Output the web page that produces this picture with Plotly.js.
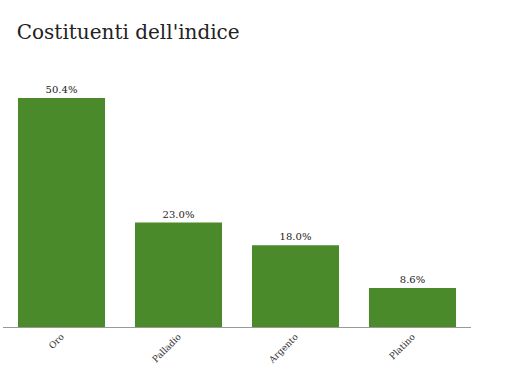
<!DOCTYPE html>
<html><head><meta charset="utf-8">
<script src="https://cdn.plot.ly/plotly-3.0.1.min.js"></script>
<style>html,body{margin:0;padding:0;background:#fff}#c{width:508px;height:387px}</style>
</head><body><div id="c"></div>
<script>
const categories = ["Oro", "Palladio", "Argento", "Platino"];
const weights = [50.4, 23.0, 18.0, 8.6];

const serif = "Georgia, 'DejaVu Serif', serif";
Plotly.newPlot('c', [{
  type: 'bar',
  x: categories,
  y: weights,
  marker: {color: '#4a8a2b'},
  texttemplate: '%{y:.1f}%',
  textposition: 'outside',
  cliponaxis: false,
  textfont: {family: serif, size: 10, color: '#222'},
  hoverinfo: 'none'
}], {
  width: 508, height: 387,
  margin: {l: 3, r: 37, t: 64, b: 60},
  paper_bgcolor: '#fff', plot_bgcolor: '#fff',
  title: {text: "Costituenti dell'indice", x: 0.033, xanchor: 'left', y: 0.935, yanchor: 'top',
          font: {family: serif, size: 20, color: '#222'}},
  bargap: 0.256,
  showlegend: false,
  xaxis: {tickangle: -45, showline: true, linecolor: '#999', linewidth: 1, ticks: '',
          tickfont: {family: serif, size: 9, color: '#333'}, fixedrange: true},
  yaxis: {range: [0, 57.9], visible: false, showgrid: false, zeroline: false, fixedrange: true}
}, {displayModeBar: false, staticPlot: true});
</script></body></html>
